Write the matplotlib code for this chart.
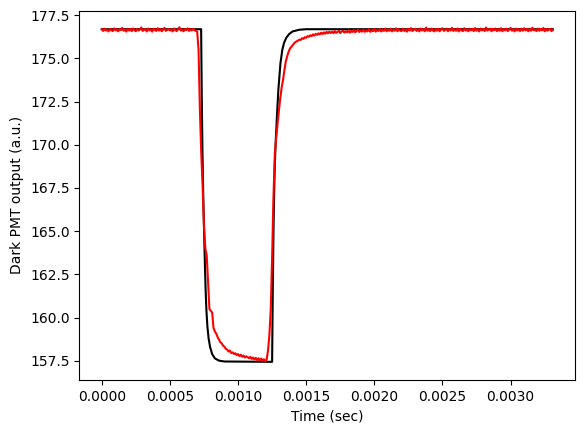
import numpy as np
import matplotlib
matplotlib.use("Agg")
import matplotlib.pyplot as plt

# ---- data ----
sample_interval = 1e-5  # sec between measured samples

measured_pre = [
    176.68, 176.58, 176.71, 176.60, 176.66, 176.55, 176.70, 176.62, 176.57, 176.73,
    176.61, 176.67, 176.56, 176.69, 176.63, 176.76, 176.59, 176.66, 176.54, 176.71,
    176.60, 176.68, 176.57, 176.72, 176.63, 176.56, 176.70, 176.60, 176.67, 176.78,
    176.58, 176.64, 176.69, 176.55, 176.72, 176.61, 176.66, 176.54, 176.71, 176.63,
    176.58, 176.74, 176.60, 176.68, 176.56, 176.66, 176.76, 176.58, 176.64, 176.70,
    176.60, 176.68, 176.55, 176.72, 176.62, 176.57, 176.70, 176.79, 176.60, 176.66,
    176.56, 176.68, 176.63, 176.73, 176.58, 176.66, 176.61, 176.70, 176.63, 176.58,
]
measured_drop = [
    176.55, 175.50, 172.00, 169.50, 167.60, 165.30, 164.00, 163.60, 162.00, 160.50,
    160.40, 160.30, 159.40, 159.20, 159.08, 158.88, 158.74, 158.58, 158.52, 158.38,
    158.33, 158.20, 158.16, 158.05, 158.10, 157.96, 158.00, 157.90, 157.95, 157.84,
    157.90, 157.78, 157.86, 157.74, 157.82, 157.70, 157.77, 157.72, 157.66, 157.74,
    157.62, 157.70, 157.58, 157.68, 157.55, 157.66, 157.52, 157.64, 157.50, 157.60,
    157.48, 157.58,
]
measured_rise = [
    158.10, 159.00, 160.50, 163.50, 167.00, 169.50, 170.40, 171.20, 172.00, 172.70,
    173.30, 173.75, 174.30, 174.80, 175.10, 175.35, 175.55, 175.65, 175.75, 175.85,
    175.93, 175.98, 176.02, 176.08, 176.06, 176.16, 176.12, 176.22, 176.18, 176.28,
    176.24, 176.33, 176.28, 176.38, 176.31, 176.41, 176.35, 176.44, 176.38, 176.48,
    176.40, 176.50, 176.42, 176.53, 176.44, 176.54, 176.46,
]
measured_post = [
    176.54, 176.45, 176.57, 176.47, 176.52, 176.59, 176.46, 176.55, 176.60, 176.48,
    176.57, 176.50, 176.62, 176.48, 176.58, 176.52, 176.63, 176.50, 176.59, 176.65,
    176.52, 176.61, 176.54, 176.66, 176.53, 176.62, 176.55, 176.68, 176.53, 176.63,
    176.56, 176.69, 176.54, 176.64, 176.57, 176.70, 176.55, 176.65, 176.58, 176.72,
    176.56, 176.66, 176.58, 176.71, 176.55, 176.67, 176.59, 176.73, 176.56, 176.68,
    176.60, 176.57, 176.71, 176.58, 176.68, 176.54, 176.70, 176.60, 176.74, 176.57,
    176.66, 176.71, 176.58, 176.68, 176.55, 176.72, 176.60, 176.69, 176.56, 176.78,
    176.59, 176.67, 176.57, 176.72, 176.61, 176.55, 176.70, 176.59, 176.69, 176.56,
    176.67, 176.74, 176.58, 176.64, 176.71, 176.56, 176.69, 176.60, 176.76, 176.58,
    176.67, 176.59, 176.72, 176.55, 176.70, 176.61, 176.57, 176.74, 176.60, 176.67,
    176.56, 176.71, 176.61, 176.69, 176.57, 176.75, 176.59, 176.67, 176.55, 176.72,
    176.61, 176.69, 176.57, 176.78, 176.60, 176.66, 176.71, 176.56, 176.70, 176.61,
    176.72, 176.57, 176.67, 176.59, 176.74, 176.56, 176.70, 176.61, 176.71, 176.57,
    176.66, 176.76, 176.59, 176.69, 176.55, 176.72, 176.60, 176.67, 176.57, 176.71,
    176.59, 176.74, 176.61, 176.69, 176.56, 176.71, 176.59, 176.77, 176.61, 176.66,
    176.57, 176.72, 176.59, 176.69, 176.61, 176.75, 176.56, 176.70, 176.59, 176.67,
    176.70, 176.57, 176.64,
]

model_time = [
    0.0, 0.000729, 0.000734, 0.000739, 0.000744, 0.000750, 0.000756, 0.000762,
    0.000768, 0.000775, 0.000784, 0.000795, 0.000810, 0.000830, 0.000860, 0.000900,
    0.001250, 0.001255, 0.001260, 0.001265, 0.001270, 0.001277, 0.001287, 0.001296,
    0.001311, 0.001325, 0.001338, 0.001355, 0.001375, 0.001400, 0.001450, 0.001500,
    0.00331,
]
model_value = [
    176.68, 176.68, 172.50, 169.50, 167.30, 165.20, 163.30, 161.60,
    160.40, 159.50, 158.80, 158.30, 157.90, 157.65, 157.52, 157.47,
    157.45, 161.70, 165.00, 167.30, 168.90, 170.30, 171.90, 173.20,
    174.70, 175.50, 175.90, 176.20, 176.40, 176.55, 176.65, 176.68,
    176.68,
]

measured = measured_pre + measured_drop + measured_rise + measured_post
measured_time = np.arange(len(measured)) * sample_interval

# ---- figure ----
fig = plt.figure(figsize=(5.84, 4.33), dpi=100)
ax = fig.add_axes([0.1358, 0.1224, 0.8493, 0.8529])

ax.plot(model_time, model_value, color="black", linewidth=1.5)
ax.plot(measured_time, measured, color="red", linewidth=1.5)

ax.set_xlim(-0.000165, 0.003475)
ax.set_ylim(156.4, 177.75)
ax.set_xlabel("Time (sec)")
ax.set_ylabel("Dark PMT output (a.u.)")

fig.savefig("out.png", dpi=100)
